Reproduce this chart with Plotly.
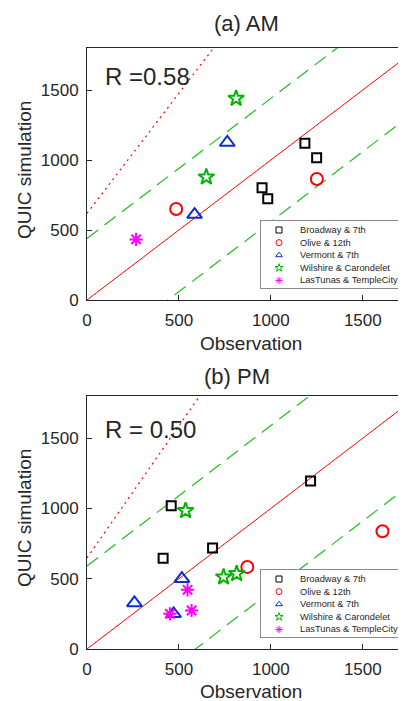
import plotly.graph_objects as go
import numpy as np

# ---------------- data ----------------
series_names = ["Broadway & 7th", "Olive & 12th", "Vermont & 7th",
                "Wilshire & Carondelet", "LasTunas & TempleCity"]

# AM
am_obs = {
    "Broadway & 7th": [1185, 1249, 952, 983],
    "Olive & 12th": [485, 1250],
    "Vermont & 7th": [585, 763],
    "Wilshire & Carondelet": [811, 649],
    "LasTunas & TempleCity": [267],
}
am_sim = {
    "Broadway & 7th": [1119, 1016, 802, 724],
    "Olive & 12th": [650, 864],
    "Vermont & 7th": [610, 1125],
    "Wilshire & Carondelet": [1440, 878],
    "LasTunas & TempleCity": [433],
}
# PM
pm_obs = {
    "Broadway & 7th": [1216, 458, 683, 414],
    "Olive & 12th": [872, 1607],
    "Vermont & 7th": [516, 258, 471],
    "Wilshire & Carondelet": [536, 743, 814],
    "LasTunas & TempleCity": [547, 569, 451],
}
pm_sim = {
    "Broadway & 7th": [1195, 1019, 719, 645],
    "Olive & 12th": [584, 838],
    "Vermont & 7th": [500, 328, 250],
    "Wilshire & Carondelet": [984, 512, 536],
    "LasTunas & TempleCity": [421, 274, 250],
}

am_band = 440          # +/- band offset (AM)
pm_band = 590          # +/- band offset (PM)
am_dot = (1.716, 619)  # dotted line slope, intercept (AM)
pm_dot = (1.88, 648)   # dotted line slope, intercept (PM)
am_R = "R =0.58"
pm_R = "R = 0.50"

x_ticks = [0, 500, 1000, 1500]
y_ticks = [0, 500, 1000, 1500]

# ---------------- styles ----------------
symbols = {"Broadway & 7th": "square-open", "Olive & 12th": "circle-open",
           "Vermont & 7th": "triangle-up-open", "Wilshire & Carondelet": "star-open",
           "LasTunas & TempleCity": "asterisk-open"}
colors = {"Broadway & 7th": "#000000", "Olive & 12th": "#ff0000",
          "Vermont & 7th": "#0a2fd0", "Wilshire & Carondelet": "#00b400",
          "LasTunas & TempleCity": "#ff00ff"}
sizes = {"Broadway & 7th": 9, "Olive & 12th": 12, "Vermont & 7th": 13,
         "Wilshire & Carondelet": 12, "LasTunas & TempleCity": 11}

OFF = 8                     # page body margin
W, H = 406 - OFF, 701 - OFF
L = 87 - OFF
PW = W - L
XMAX, YMAX = 1735, 1800
FONT = "Liberation Sans, Arial, sans-serif"
TXT = "#262626"
GREEN = "#1fbf1f"


def px_x(p):
    # window pixel -> paper x
    return (p - OFF - L) / PW


def px_y(p):
    # window pixel -> paper y
    return 1 - (p - OFF) / H


fig = go.Figure()


def add_panel(obs, sim, band, dot, xa, ya):
    xs = np.array([0, XMAX * 1.2])
    fig.add_trace(go.Scatter(x=xs, y=xs, mode="lines", line=dict(color="red", width=1),
                             xaxis=xa, yaxis=ya, showlegend=False, hoverinfo="skip"))
    for sgn in (1, -1):
        fig.add_trace(go.Scatter(x=xs, y=xs + sgn * band, mode="lines",
                                 line=dict(color=GREEN, width=1.2, dash="14px,8px"),
                                 xaxis=xa, yaxis=ya, showlegend=False, hoverinfo="skip"))
    fig.add_trace(go.Scatter(x=xs, y=dot[0] * xs + dot[1], mode="lines",
                             line=dict(color="red", width=1.2, dash="2px,4px"),
                             xaxis=xa, yaxis=ya, showlegend=False, hoverinfo="skip"))
    for name in series_names:
        fig.add_trace(go.Scatter(
            x=obs[name], y=sim[name], mode="markers", name=name, showlegend=False,
            marker=dict(symbol=symbols[name], color=colors[name], size=sizes[name],
                        line=dict(color=colors[name], width=2)),
            xaxis=xa, yaxis=ya))


def add_legend(xa, ya):
    # legend drawn as an inset subplot: one row per series
    for i, name in enumerate(series_names):
        fig.add_trace(go.Scatter(
            x=[18], y=[i], mode="markers", showlegend=False, hoverinfo="skip",
            marker=dict(symbol=symbols[name], color=colors[name], size=6,
                        line=dict(color=colors[name], width=1)),
            xaxis=xa, yaxis=ya))
        fig.add_annotation(text=name, x=37, y=i, xref=xa, yref=ya, xanchor="left",
                           showarrow=False, font=dict(size=9.3, family=FONT, color=TXT))


add_panel(am_obs, am_sim, am_band, am_dot, "x", "y")
add_panel(pm_obs, pm_sim, pm_band, pm_dot, "x2", "y2")
add_legend("x3", "y3")
add_legend("x4", "y4")

axis_common = dict(showline=True, linecolor="#262626", linewidth=1, ticks="inside",
                   ticklen=5, tickcolor="#262626", showgrid=False, zeroline=False,
                   automargin=False,
                   tickfont=dict(family=FONT, size=17, color=TXT))
leg_axis = dict(showline=True, linecolor="#8a8a8a", linewidth=1, mirror=True,
                showgrid=False, zeroline=False, showticklabels=False, ticks="",
                automargin=False, fixedrange=True)

fig.update_layout(
    width=W, height=H, margin=dict(l=L, r=0, t=0, b=0, autoexpand=False),
    plot_bgcolor="white", paper_bgcolor="white",
    font=dict(family=FONT, color=TXT),
    showlegend=False,
    xaxis=dict(domain=[0, 1], range=[0, XMAX], tickvals=x_ticks, mirror=True,
               anchor="y", ticklabelstandoff=5, **axis_common),
    yaxis=dict(domain=[px_y(300), px_y(48)], range=[0, YMAX], tickvals=y_ticks,
               anchor="x", ticklabelstandoff=4, **axis_common),
    xaxis2=dict(domain=[0, 1], range=[0, XMAX], tickvals=x_ticks, mirror=True,
                anchor="y2", ticklabelstandoff=5, **axis_common),
    yaxis2=dict(domain=[px_y(649), px_y(396)], range=[0, YMAX], tickvals=y_ticks,
                anchor="x2", ticklabelstandoff=4, **axis_common),
    xaxis3=dict(domain=[px_x(261), px_x(403)], range=[0, 142], anchor="y3", **leg_axis),
    yaxis3=dict(domain=[px_y(288), px_y(221)], range=[4.6, -0.714], anchor="x3", **leg_axis),
    xaxis4=dict(domain=[px_x(261), px_x(403)], range=[0, 142], anchor="y4", **leg_axis),
    yaxis4=dict(domain=[px_y(637), px_y(570)], range=[4.6, -0.714], anchor="x4", **leg_axis),
)

# titles, axis labels and R values (window pixel positions converted to paper coords)
texts = [
    ("(a) AM", 246, 24, 22, 0, "center"),
    ("(b) PM", 237, 376, 22, 0, "center"),
    (am_R, 103, 77, 24, 0, "left"),
    (pm_R, 103, 429, 24, 0, "left"),
    ("Observation", 251, 343, 19, 0, "center"),
    ("Observation", 251, 691, 19, 0, "center"),
    ("QUIC simulation", 25, 170, 19, -90, "center"),
    ("QUIC simulation", 25, 518, 19, -90, "center"),
]
for t, x, y, s, ang, anc in texts:
    fig.add_annotation(text=t, x=px_x(x), y=px_y(y), xref="paper", yref="paper",
                       xanchor=anc, yanchor="middle", textangle=ang, showarrow=False,
                       font=dict(size=s, family=FONT, color=TXT))

fig.write_html("out.html")
